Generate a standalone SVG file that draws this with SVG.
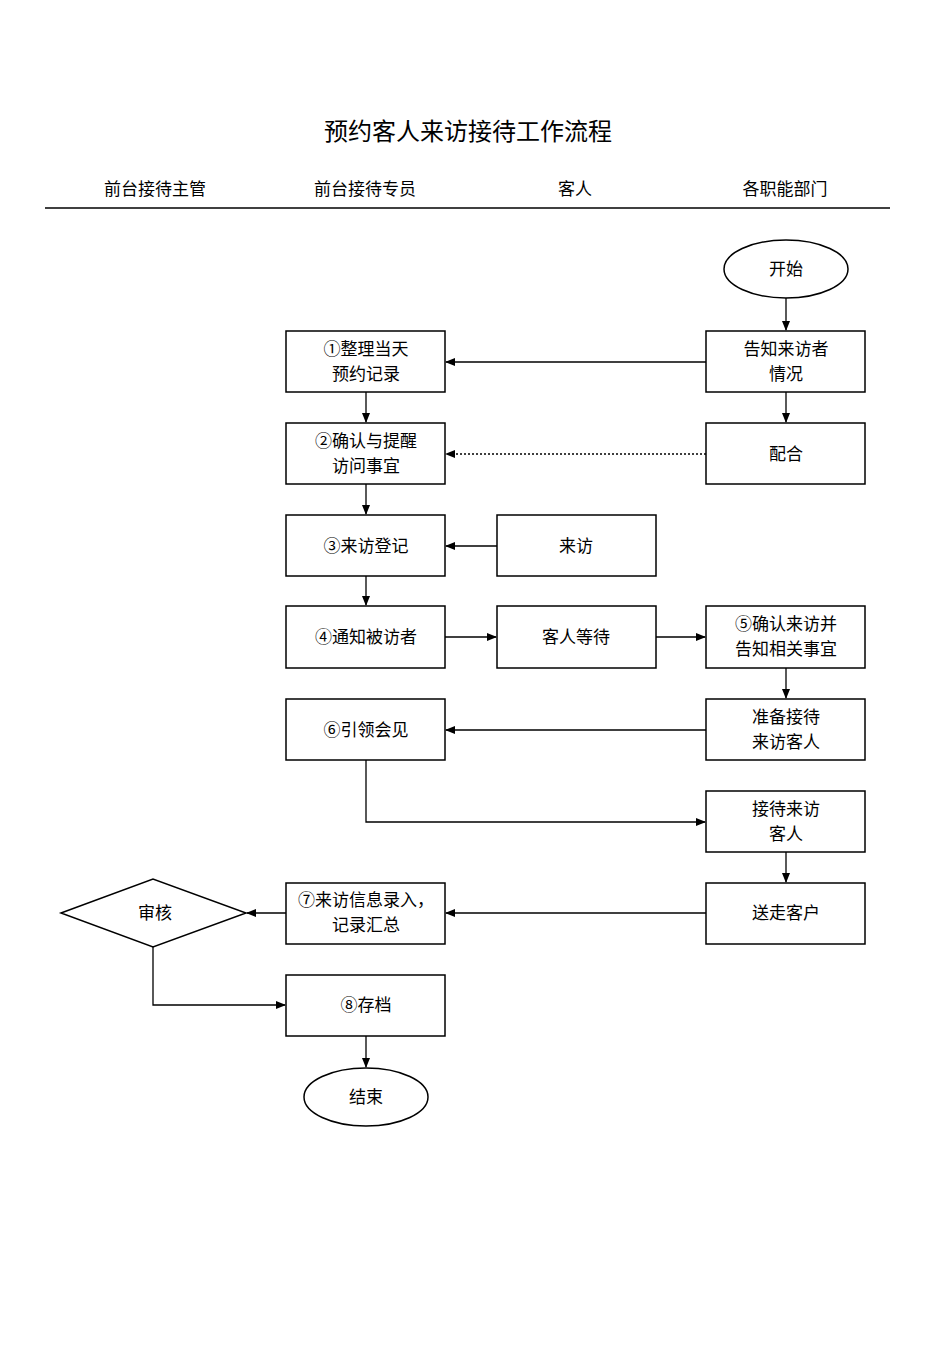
<svg xmlns="http://www.w3.org/2000/svg" width="950" height="1345" viewBox="0 0 950 1345">
<defs>
<marker id="a" markerWidth="10" markerHeight="8" refX="9" refY="4" orient="auto" markerUnits="userSpaceOnUse"><path d="M0,0 L10,4 L0,8 Z" fill="#000"/></marker>
<style>
text{font-family:"Liberation Serif","Noto Sans CJK SC",serif;font-size:17px;text-anchor:middle;fill:#000}
.b{fill:#fff;stroke:#000;stroke-width:1.5}
.c{fill:none;stroke:#000;stroke-width:1.3}
</style>
</defs>
<rect width="950" height="1345" fill="#fff"/>
<text x="468" y="140" style="font-size:24px">预约客人来访接待工作流程</text>
<g id="headers">
<text x="155" y="195">前台接待主管</text>
<text x="365" y="195">前台接待专员</text>
<text x="575" y="195">客人</text>
<text x="785" y="195">各职能部门</text>
<line x1="45" y1="208" x2="890" y2="208" stroke="#000" stroke-width="1.3"/>
</g>
<g id="connectors">
<path class="c" d="M786,298 V330" marker-end="url(#a)"/>
<path class="c" d="M706,362 H446" marker-end="url(#a)"/>
<path class="c" d="M786,392 V422" marker-end="url(#a)"/>
<path class="c" d="M366,392 V422" marker-end="url(#a)"/>
<path class="c" d="M706,454 H446" stroke-dasharray="2,2" marker-end="url(#a)"/>
<path class="c" d="M366,484 V514" marker-end="url(#a)"/>
<path class="c" d="M497,546 H446" marker-end="url(#a)"/>
<path class="c" d="M366,576 V605" marker-end="url(#a)"/>
<path class="c" d="M445,637 H496" marker-end="url(#a)"/>
<path class="c" d="M656,637 H705" marker-end="url(#a)"/>
<path class="c" d="M786,668 V698" marker-end="url(#a)"/>
<path class="c" d="M706,730 H446" marker-end="url(#a)"/>
<path class="c" d="M366,760 V822 H705" marker-end="url(#a)"/>
<path class="c" d="M786,852 V882" marker-end="url(#a)"/>
<path class="c" d="M706,913 H446" marker-end="url(#a)"/>
<path class="c" d="M286,913 H247" marker-end="url(#a)"/>
<path class="c" d="M153,947 V1005 H285" marker-end="url(#a)"/>
<path class="c" d="M366,1036 V1067" marker-end="url(#a)"/>
</g>
<g id="start"><ellipse class="b" cx="786" cy="269" rx="62" ry="29"/><text x="786" y="275">开始</text></g>
<g id="n1"><rect class="b" x="286" y="331" width="159" height="61"/><text x="366" y="355">①整理当天</text><text x="366" y="380">预约记录</text></g>
<g id="r1"><rect class="b" x="706" y="331" width="159" height="61"/><text x="786" y="355">告知来访者</text><text x="786" y="380">情况</text></g>
<g id="n2"><rect class="b" x="286" y="423" width="159" height="61"/><text x="366" y="447">②确认与提醒</text><text x="366" y="472">访问事宜</text></g>
<g id="r2"><rect class="b" x="706" y="423" width="159" height="61"/><text x="786" y="460">配合</text></g>
<g id="n3"><rect class="b" x="286" y="515" width="159" height="61"/><text x="366" y="552">③来访登记</text></g>
<g id="m3"><rect class="b" x="497" y="515" width="159" height="61"/><text x="576" y="552">来访</text></g>
<g id="n4"><rect class="b" x="286" y="606" width="159" height="62"/><text x="366" y="643">④通知被访者</text></g>
<g id="m4"><rect class="b" x="497" y="606" width="159" height="62"/><text x="576" y="643">客人等待</text></g>
<g id="r4"><rect class="b" x="706" y="606" width="159" height="62"/><text x="786" y="630">⑤确认来访并</text><text x="786" y="655">告知相关事宜</text></g>
<g id="n5"><rect class="b" x="286" y="699" width="159" height="61"/><text x="366" y="736">⑥引领会见</text></g>
<g id="r5"><rect class="b" x="706" y="699" width="159" height="61"/><text x="786" y="723">准备接待</text><text x="786" y="748">来访客人</text></g>
<g id="r6"><rect class="b" x="706" y="791" width="159" height="61"/><text x="786" y="815">接待来访</text><text x="786" y="840">客人</text></g>
<g id="n7"><rect class="b" x="286" y="883" width="159" height="61"/><text x="366" y="906">⑦来访信息录入，</text><text x="366" y="931">记录汇总</text></g>
<g id="r7"><rect class="b" x="706" y="883" width="159" height="61"/><text x="786" y="919">送走客户</text></g>
<g id="d"><polygon class="b" points="61,913 153,879 246,913 153,947"/><text x="155" y="919">审核</text></g>
<g id="n8"><rect class="b" x="286" y="975" width="159" height="61"/><text x="366" y="1011">⑧存档</text></g>
<g id="end"><ellipse class="b" cx="366" cy="1097" rx="62" ry="29"/><text x="366" y="1103">结束</text></g>
</svg>
